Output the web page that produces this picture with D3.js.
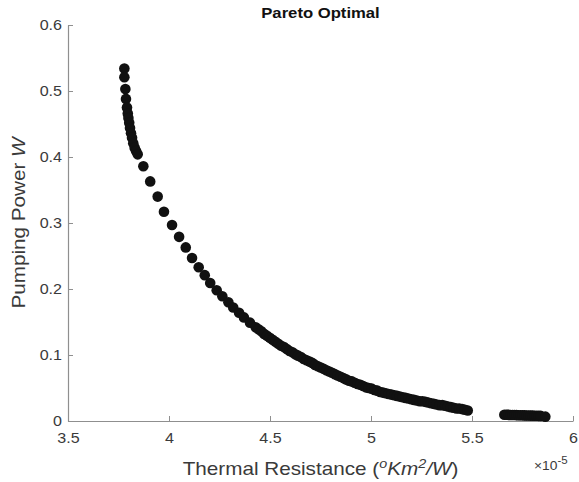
<!DOCTYPE html>
<html>
<head>
<meta charset="utf-8">
<script src="https://cdn.jsdelivr.net/npm/d3@7/dist/d3.min.js"></script>
<style>
  html, body { margin: 0; padding: 0; background: #fff; }
  svg { display: block; font-family: "Liberation Sans", Arial, Helvetica, sans-serif; }
</style>
</head>
<body>
<svg id="chart" width="579" height="482"></svg>
<script>
// Thermal resistance (x 1e-5 °K m²/W)
const thermalResistance = [
  3.779, 3.779, 3.784, 3.787, 3.792, 3.796, 3.799, 3.803, 3.807, 3.812,
  3.817, 3.823, 3.830, 3.837, 3.845, 3.873, 3.907, 3.944, 3.975, 4.015,
  4.050, 4.083, 4.114, 4.147, 4.177, 4.204, 4.236, 4.264, 4.294, 4.318,
  4.347, 4.371, 4.401, 4.429,
  4.443, 4.457, 4.471, 4.485, 4.499, 4.513, 4.527, 4.541, 4.555, 4.569,
  4.583, 4.597, 4.611, 4.625, 4.639, 4.653, 4.667, 4.681, 4.695, 4.709,
  4.723, 4.737, 4.751, 4.765, 4.779, 4.793, 4.807, 4.821, 4.835, 4.849,
  4.863, 4.877, 4.891, 4.905, 4.919, 4.933, 4.947, 4.961, 4.975, 4.989,
  5.003, 5.017, 5.031, 5.045, 5.059, 5.073, 5.087, 5.101, 5.115, 5.129,
  5.143, 5.157, 5.171, 5.185, 5.199, 5.213, 5.227, 5.241, 5.255, 5.269,
  5.283, 5.297, 5.311, 5.325, 5.339, 5.353, 5.367, 5.381, 5.395, 5.409,
  5.423, 5.437, 5.451, 5.465, 5.479,
  5.660, 5.670, 5.680, 5.690, 5.700, 5.710, 5.720, 5.730, 5.740, 5.750,
  5.760, 5.770, 5.780, 5.790, 5.800, 5.810, 5.820, 5.830, 5.840, 5.863
];
// Pumping power (W)
const pumpingPower = [
  0.534, 0.521, 0.503, 0.488, 0.475, 0.466, 0.459, 0.452, 0.444, 0.436,
  0.429, 0.421, 0.414, 0.409, 0.404, 0.386, 0.363, 0.340, 0.317, 0.297,
  0.279, 0.263, 0.247, 0.233, 0.221, 0.209, 0.198, 0.189, 0.180, 0.172,
  0.164, 0.157, 0.149, 0.142,
  0.139, 0.136, 0.132, 0.129, 0.126, 0.123, 0.120, 0.117, 0.114, 0.112,
  0.109, 0.106, 0.104, 0.101, 0.099, 0.097, 0.094, 0.092, 0.090, 0.088,
  0.085, 0.083, 0.081, 0.079, 0.077, 0.075, 0.073, 0.071, 0.069, 0.067,
  0.065, 0.063, 0.061, 0.060, 0.058, 0.056, 0.055, 0.053, 0.051, 0.050,
  0.049, 0.047, 0.046, 0.044, 0.043, 0.042, 0.041, 0.040, 0.039, 0.038,
  0.037, 0.036, 0.035, 0.034, 0.033, 0.032, 0.031, 0.030, 0.030, 0.029,
  0.028, 0.027, 0.026, 0.025, 0.024, 0.024, 0.023, 0.022, 0.021, 0.020,
  0.019, 0.019, 0.018, 0.017, 0.016,
  0.0095, 0.0094, 0.0093, 0.0092, 0.0091, 0.0090, 0.0089, 0.0088, 0.0087, 0.0086,
  0.0085, 0.0084, 0.0083, 0.0082, 0.0081, 0.0080, 0.0079, 0.0078, 0.0077, 0.0066
];
const xTicks = [3.5, 4, 4.5, 5, 5.5, 6];
const yTicks = [0, 0.1, 0.2, 0.3, 0.4, 0.5, 0.6];
const titleText = "Pareto Optimal";

const svg = d3.select("#chart");
const m = { left: 68, right: 573, top: 25, bottom: 421 };
const SX = 1.15; // horizontal stretch of the reference lettering

const x = d3.scaleLinear().domain([3.5, 6]).range([m.left, m.right]);
const y = d3.scaleLinear().domain([0, 0.6]).range([m.bottom, m.top]);

const axisColor = "#8f8f8f";
const labelColor = "#3a3a3a";

// X axis (ticks inward)
const gx = svg.append("g").attr("transform", `translate(0,${m.bottom})`)
  .call(d3.axisBottom(x).tickValues(xTicks).tickSizeInner(-5).tickSizeOuter(0)
    .tickPadding(12).tickFormat(d3.format("")));
gx.select(".domain").attr("stroke", axisColor).attr("stroke-width", 1.2);
gx.selectAll(".tick line").attr("stroke", axisColor);
gx.selectAll(".tick text").attr("fill", labelColor).attr("font-size", 14)
  .attr("font-family", "Liberation Sans, Arial, sans-serif")
  .attr("transform", `scale(${SX},1)`);

// Y axis
const gy = svg.append("g").attr("transform", `translate(${m.left},0)`)
  .call(d3.axisLeft(y).tickValues(yTicks).tickSizeInner(-5).tickSizeOuter(0)
    .tickPadding(6).tickFormat(d3.format("")));
gy.select(".domain").attr("stroke", axisColor).attr("stroke-width", 1.2);
gy.selectAll(".tick line").attr("stroke", axisColor);
gy.selectAll(".tick text").attr("fill", labelColor).attr("font-size", 14)
  .attr("font-family", "Liberation Sans, Arial, sans-serif")
  .attr("x", -6 / SX)
  .attr("transform", `scale(${SX},1)`);

// Points
const pts = thermalResistance.map((v, i) => ({ x: v, y: pumpingPower[i] }));
svg.append("g").selectAll("circle").data(pts).join("circle")
  .attr("cx", d => x(d.x)).attr("cy", d => y(d.y)).attr("r", 5.3)
  .attr("fill", "#111");

// Title
svg.append("text")
  .attr("transform", `translate(${(m.left + m.right) / 2},18) scale(${SX},1)`)
  .attr("text-anchor", "middle").attr("font-weight", "bold").attr("font-size", 14.5)
  .attr("fill", "#111").text(titleText);

// X label
const xl = svg.append("text")
  .attr("transform", `translate(${(m.left + m.right) / 2},475) scale(${SX},1)`)
  .attr("text-anchor", "middle").attr("font-size", 18).attr("fill", labelColor);
xl.append("tspan").text("Thermal Resistance (");
xl.append("tspan").attr("font-style", "italic").attr("font-size", 12.5).attr("dy", -7).text("o");
xl.append("tspan").attr("font-style", "italic").attr("dy", 7).text("Km");
xl.append("tspan").attr("font-style", "italic").attr("font-size", 12.5).attr("dy", -7).text("2");
xl.append("tspan").attr("font-style", "italic").attr("dy", 7).text("/W");
xl.append("tspan").text(")");

// Exponent label
const ex = svg.append("text")
  .attr("transform", `translate(534,470) scale(${SX},1)`)
  .attr("font-size", 12).attr("fill", labelColor);
ex.append("tspan").text("\u00d710");
ex.append("tspan").attr("dy", -6).attr("font-size", 10).text("-5");

// Y label
const yl = svg.append("text")
  .attr("transform", `translate(25,${(m.top + m.bottom) / 2}) rotate(-90) scale(${SX},1)`)
  .attr("text-anchor", "middle").attr("font-size", 18).attr("fill", labelColor);
yl.append("tspan").text("Pumping Power ");
yl.append("tspan").attr("font-style", "italic").text("W");
</script>
</body>
</html>
